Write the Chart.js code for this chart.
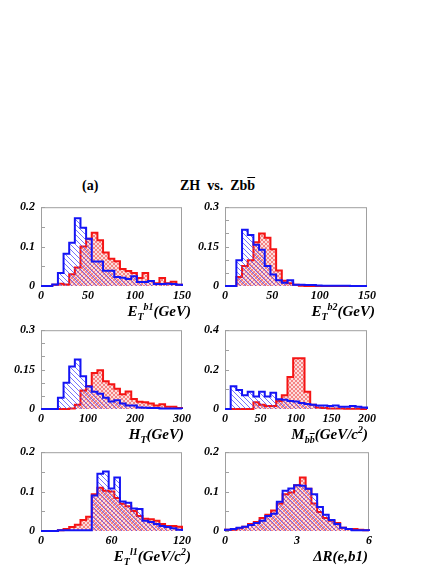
<!DOCTYPE html>
<html>
<head>
<meta charset="utf-8">
<script src="https://cdn.jsdelivr.net/npm/chart.js@4.4.0/dist/chart.umd.min.js"></script>
<style>
  body { margin: 0; background: #fff; }
  #page { position: relative; width: 443px; height: 573px; overflow: hidden; font-family: "Liberation Serif", serif; color: #000; }
  canvas { position: absolute; }
  .head { position: absolute; font-weight: bold; font-size: 14px; line-height: 14px; white-space: nowrap; }
  .ttl { position: absolute; font-weight: bold; font-style: italic; font-size: 15px; line-height: 15px; text-align: right; white-space: nowrap; }
  .sub { position: relative; top: 4px; font-size: 10px; }
  .sup { position: relative; top: -6px; font-size: 10px; }
  .bar { text-decoration: overline; }
</style>
</head>
<body>
<div id="page">
  <div class="head" style="left:82px; top:179px;">(a)</div>
  <div class="head" style="left:180px; top:179px;">ZH&nbsp; vs.&nbsp; Zb<span class="bar">b</span></div>

  <canvas id="c0" width="194" height="114" style="left:0px; top:194px;"></canvas>
  <canvas id="c1" width="195" height="114" style="left:184px; top:194px;"></canvas>
  <canvas id="c2" width="194" height="114" style="left:0px; top:317px;"></canvas>
  <canvas id="c3" width="195" height="114" style="left:184px; top:317px;"></canvas>
  <canvas id="c4" width="194" height="114" style="left:0px; top:439px;"></canvas>
  <canvas id="c5" width="195" height="114" style="left:184px; top:439px;"></canvas>

  <div class="ttl" style="left:0; width:191px; top:304px;">E<span class="sub">T</span><span class="sup">b1</span>(GeV)</div>
  <div class="ttl" style="left:0; width:375px; top:304px;">E<span class="sub">T</span><span class="sup">b2</span>(GeV)</div>
  <div class="ttl" style="left:0; width:184px; top:427px;">H<span class="sub">T</span>(GeV)</div>
  <div class="ttl" style="left:0; width:368px; top:427px;">M<span class="sub">b<span class="bar">b</span></span>(GeV/c<span class="sup">2</span>)</div>
  <div class="ttl" style="left:0; width:191px; top:549px;">E<span class="sub">T</span><span class="sup">l1</span>(GeV/c<span class="sup">2</span>)</div>
  <div class="ttl" style="left:0; width:368px; top:549px;">ΔR(e,b1)</div>
</div>

<script>
// bin contents, 25 bins per histogram (red = ZH, blue = Zbb)
const zbbEtb1 = [0, 0, 0.004, 0.033, 0.082, 0.11, 0.172, 0.148, 0.12, 0.062, 0.062, 0.039, 0.039, 0.023, 0.021, 0.018, 0.025, 0.01, 0.01, 0.013, 0.005, 0.005, 0.006, 0.005, 0.003];
const zhEtb1  = [0, 0, 0.003, 0.006, 0.004, 0.03, 0.047, 0.1, 0.12, 0.135, 0.116, 0.085, 0.069, 0.063, 0.043, 0.038, 0.033, 0.02, 0.033, 0.013, 0.007, 0.02, 0.007, 0.011, 0.003];

const zbbEtb2 = [0, 0, 0.098, 0.214, 0.194, 0.157, 0.138, 0.076, 0.044, 0.022, 0.012, 0.022, 0.005, 0.005, 0.004, 0.004, 0.002, 0.001, 0.001, 0.001, 0.001, 0.001, 0, 0, 0];
const zhEtb2  = [0, 0, 0.034, 0.076, 0.098, 0.167, 0.2, 0.184, 0.14, 0.059, 0.02, 0.01, 0.005, 0.001, 0, 0, 0, 0, 0, 0, 0, 0, 0, 0, 0];

const zbbHt = [0, 0, 0, 0.043, 0.1, 0.162, 0.188, 0.125, 0.086, 0.066, 0.058, 0.043, 0.029, 0.033, 0.021, 0.013, 0.013, 0.006, 0.005, 0.004, 0.004, 0.002, 0.002, 0.002, 0.002];
const zhHt  = [0, 0, 0, 0, 0, 0.002, 0.016, 0.07, 0.088, 0.137, 0.148, 0.106, 0.094, 0.077, 0.056, 0.067, 0.038, 0.028, 0.026, 0.021, 0.013, 0.018, 0.009, 0.009, 0.004];

const zbbMbb = [0, 0.116, 0.096, 0.07, 0.087, 0.064, 0.087, 0.064, 0.083, 0.05, 0.047, 0.041, 0.038, 0.031, 0.025, 0.021, 0.018, 0.018, 0.015, 0.018, 0.011, 0.011, 0.015, 0.011, 0.008];
const zhMbb  = [0, 0, 0, 0, 0, 0.034, 0.021, 0.015, 0.015, 0.041, 0.07, 0.162, 0.257, 0.257, 0.087, 0.021, 0.008, 0.005, 0.003, 0.002, 0.002, 0.001, 0.001, 0.001, 0];

const zbbEtl1 = [0, 0, 0, 0.002, 0.002, 0.002, 0.002, 0.002, 0.002, 0.09, 0.145, 0.151, 0.108, 0.136, 0.075, 0.072, 0.057, 0.056, 0.026, 0.023, 0.018, 0.013, 0.01, 0.007, 0.003];
const zhEtl1  = [0, 0, 0, 0.002, 0.005, 0.01, 0.016, 0.028, 0.036, 0.093, 0.11, 0.102, 0.1, 0.084, 0.069, 0.063, 0.051, 0.038, 0.031, 0.03, 0.026, 0.018, 0.013, 0.013, 0.011];

const zbbDR = [0.003, 0.005, 0.008, 0.011, 0.015, 0.02, 0.026, 0.038, 0.044, 0.074, 0.102, 0.108, 0.116, 0.115, 0.107, 0.093, 0.061, 0.041, 0.028, 0.018, 0.008, 0.005, 0.002, 0.002, 0.002];
const zhDR  = [0.003, 0.003, 0.007, 0.011, 0.018, 0.023, 0.033, 0.041, 0.052, 0.07, 0.093, 0.098, 0.116, 0.136, 0.107, 0.07, 0.048, 0.033, 0.026, 0.02, 0.008, 0.005, 0.005, 0.003, 0.002];

// axis ranges and ticks
const xRanges = [[0, 150], [0, 150], [0, 300], [0, 200], [0, 120], [0, 6]];
const xSteps  = [50, 50, 100, 50, 60, 3];
const yMaxes  = [0.2, 0.3, 0.3, 0.4, 0.2, 0.2];
const yLabelSteps = [0.1, 0.15, 0.15, 0.2, 0.1, 0.1];
const yMinorSteps = [0.05, 0.05, 0.05, 0.1, 0.05, 0.05];

const panels = [
  [zbbEtb1, zhEtb1], [zbbEtb2, zhEtb2], [zbbHt, zhHt],
  [zbbMbb, zhMbb], [zbbEtl1, zhEtl1], [zbbDR, zhDR]
];

function histPoints(values, lo, hi) {
  const w = (hi - lo) / values.length;
  const pts = [{x: lo, y: 0}];
  values.forEach((v, i) => pts.push({x: lo + i * w, y: v}));
  pts.push({x: hi, y: values[values.length - 1]});
  pts.push({x: hi, y: 0});
  return pts;
}

function hatchPattern() {
  const c = document.createElement('canvas');
  c.width = 5; c.height = 5;
  const g = c.getContext('2d');
  g.fillStyle = 'rgba(70,70,255,0.75)';
  for (let i = 0; i < 5; i++) g.fillRect(i, i, 1, 1);
  return g.createPattern(c, 'repeat');
}

function crossPattern() {
  const c = document.createElement('canvas');
  c.width = 4; c.height = 4;
  const g = c.getContext('2d');
  g.fillStyle = '#fcdcdc';
  g.fillRect(0, 0, 4, 4);
  g.fillStyle = '#f48484';
  for (let i = 0; i < 4; i++) { g.fillRect(i, i, 1, 1); g.fillRect(3 - i, i, 1, 1); }
  return g.createPattern(c, 'repeat');
}

const framePlugin = {
  id: 'frame',
  beforeDatasetsDraw(chart) {
    const {ctx, chartArea: a} = chart;
    const y = chart.scales.y;
    ctx.save();
    ctx.strokeStyle = '#a0a0a0';
    ctx.lineWidth = 1;
    ctx.strokeRect(a.left + 0.5, a.top + 0.5, a.right - a.left - 1, a.bottom - a.top - 1);
    y.ticks.forEach(t => {
      const py = Math.round(y.getPixelForValue(t.value)) + 0.5;
      ctx.beginPath();
      ctx.moveTo(a.left, py);
      ctx.lineTo(a.left + 4, py);
      ctx.stroke();
    });
    ctx.restore();
  }
};

const tickFont = {family: '"Liberation Serif", serif', size: 12, style: 'italic', weight: 'bold'};

panels.forEach(([zbb, zh], i) => {
  const [lo, hi] = xRanges[i];
  const labelStep = yLabelSteps[i];
  new Chart(document.getElementById('c' + i), {
    type: 'line',
    data: {
      datasets: [
        {data: histPoints(zbb, lo, hi), borderColor: '#1414f5', borderWidth: 2, backgroundColor: hatchPattern(),
         fill: 'origin', stepped: 'before', pointRadius: 0, clip: false},
        {data: histPoints(zh, lo, hi), borderColor: '#f51414', borderWidth: 2, backgroundColor: crossPattern(),
         fill: 'origin', stepped: 'before', pointRadius: 0, clip: false}
      ]
    },
    options: {
      responsive: false,
      animation: false,
      devicePixelRatio: 1,
      layout: {padding: {top: 10, right: 10, left: 0, bottom: 0}},
      plugins: {legend: {display: false}, tooltip: {enabled: false}},
      scales: {
        x: {
          type: 'linear', min: lo, max: hi,
          grid: {display: false, drawTicks: false}, border: {display: false},
          ticks: {stepSize: xSteps[i], autoSkip: false, maxRotation: 0, padding: 3, color: '#000', font: tickFont},
          afterFit: s => { s.height = 22; }
        },
        y: {
          min: 0, max: yMaxes[i],
          grid: {display: false, drawTicks: false}, border: {display: false},
          ticks: {
            stepSize: yMinorSteps[i], padding: 6, color: '#000', font: tickFont, autoSkip: false,
            callback: v => {
              const r = v / labelStep;
              if (Math.abs(r - Math.round(r)) > 1e-6) return '';
              return String(parseFloat(v.toFixed(3)));
            }
          },
          afterFit: s => { s.width = 41; }
        }
      }
    },
    plugins: [framePlugin]
  });
});
</script>
</body>
</html>
